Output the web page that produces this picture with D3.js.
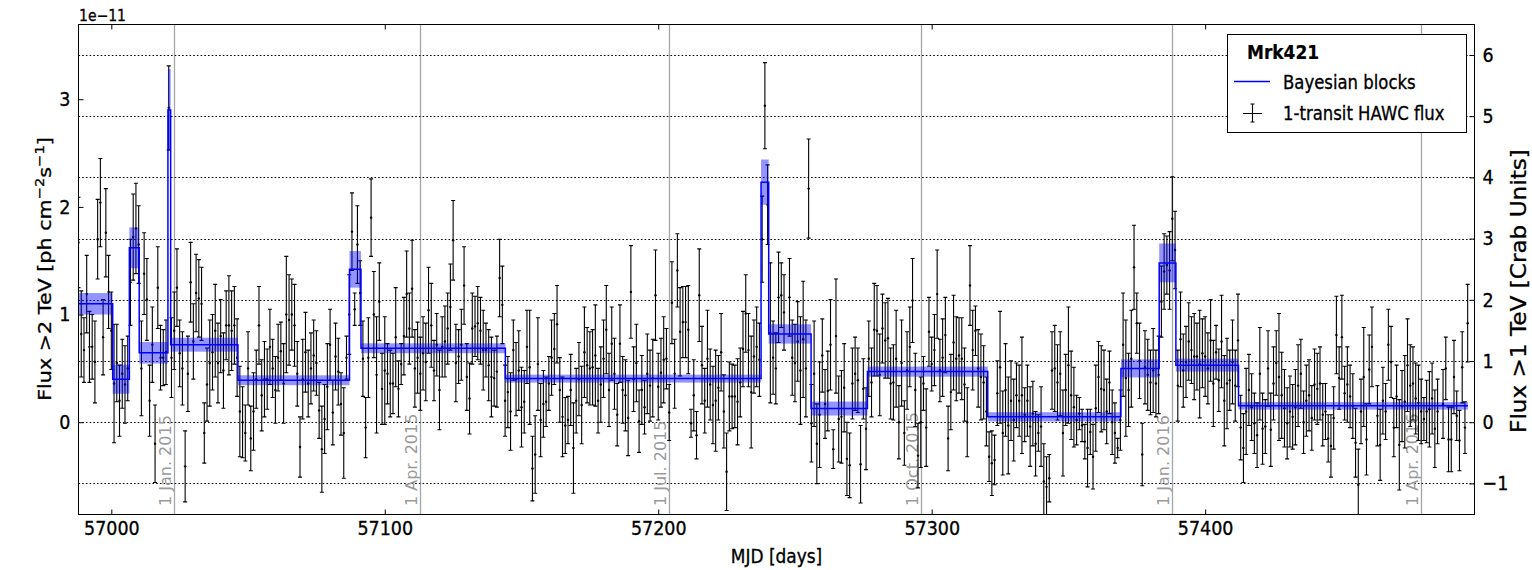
<!DOCTYPE html>
<html>
<head>
<meta charset="utf-8">
<script src="https://cdn.jsdelivr.net/npm/d3@7"></script>
<style>
  html, body { margin: 0; padding: 0; background: #fff; }
  svg { display: block; font-family: "DejaVu Sans", sans-serif; }
</style>
</head>
<body>
<svg id="chart" width="1532" height="570"></svg>
<script>
// Daily HAWC transits of Mrk421 (MJD), flux >2 TeV in units of 1e-11 ph cm^-2 s^-1
const mjd = [
  56988,56989,56990,56991,56992,56993,56994,56995,56996,56997,
  56998,56999,57000,57001,57002,57003,57004,57005,57006,57007,
  57008,57009,57010,57011,57012,57013,57014,57015,57016,57017,
  57018,57019,57020,57021,57022,57023,57024,57025,57026,57027,
  57028,57029,57030,57031,57032,57033,57034,57035,57036,57037,
  57038,57039,57040,57041,57042,57043,57044,57045,57046,57047,
  57048,57049,57050,57051,57052,57053,57054,57055,57056,57057,
  57058,57059,57060,57061,57062,57063,57064,57065,57066,57067,
  57068,57069,57070,57071,57072,57073,57074,57075,57076,57077,
  57078,57079,57080,57081,57082,57083,57084,57085,57086,57087,
  57088,57089,57090,57091,57092,57093,57094,57095,57096,57097,
  57098,57099,57100,57101,57102,57103,57104,57105,57106,57107,
  57108,57109,57110,57111,57112,57113,57114,57115,57116,57117,
  57118,57119,57120,57121,57122,57123,57124,57125,57126,57127,
  57128,57129,57130,57131,57132,57133,57134,57135,57136,57137,
  57138,57139,57140,57141,57142,57143,57144,57145,57146,57147,
  57148,57149,57150,57151,57152,57153,57154,57155,57156,57157,
  57158,57159,57160,57161,57162,57163,57164,57165,57166,57167,
  57168,57169,57170,57171,57172,57173,57174,57175,57176,57177,
  57178,57179,57180,57181,57182,57183,57184,57185,57186,57187,
  57188,57189,57190,57191,57192,57193,57194,57195,57196,57197,
  57198,57199,57200,57201,57202,57203,57204,57205,57206,57207,
  57208,57209,57210,57211,57212,57213,57214,57215,57216,57217,
  57218,57219,57220,57221,57222,57223,57224,57225,57226,57227,
  57228,57229,57230,57231,57232,57233,57234,57235,57236,57237,
  57238,57239,57240,57241,57242,57243,57244,57245,57246,57247,
  57248,57249,57250,57251,57252,57253,57254,57255,57256,57257,
  57258,57259,57260,57261,57262,57263,57264,57265,57266,57267,
  57268,57269,57270,57271,57272,57273,57274,57275,57276,57277,
  57278,57279,57280,57281,57282,57283,57284,57285,57286,57287,
  57288,57289,57290,57291,57292,57293,57294,57295,57296,57297,
  57298,57299,57300,57301,57302,57303,57304,57305,57306,57307,
  57308,57309,57310,57311,57312,57313,57314,57315,57316,57317,
  57318,57319,57320,57321,57322,57323,57324,57325,57326,57327,
  57328,57329,57330,57331,57332,57333,57334,57335,57336,57337,
  57338,57339,57340,57341,57342,57343,57344,57345,57346,57347,
  57348,57349,57350,57351,57352,57353,57354,57355,57356,57357,
  57358,57359,57360,57361,57362,57363,57364,57365,57366,57367,
  57368,57369,57370,57371,57372,57373,57374,57375,57376,57377,
  57378,57379,57380,57381,57382,57383,57384,57385,57386,57387,
  57388,57389,57390,57391,57392,57393,57394,57395,57396,57397,
  57398,57399,57400,57401,57402,57403,57404,57405,57406,57407,
  57408,57409,57410,57411,57412,57413,57414,57415,57416,57417,
  57418,57419,57420,57421,57422,57423,57424,57425,57426,57427,
  57428,57429,57430,57431,57432,57433,57434,57435,57436,57437,
  57438,57439,57440,57441,57442,57443,57444,57445,57446,57447,
  57448,57449,57450,57451,57452,57453,57454,57455,57456,57457,
  57458,57459,57460,57461,57462,57463,57464,57465,57466,57467,
  57468,57469,57470,57471,57472,57473,57474,57475,57476,57477,
  57478,57479,57480,57481,57482,57483,57484,57485,57486,57487,
  57488,57489,57490,57491,57492,57493,57494,57495,57496
];

const flux = [
  1.67,0.82,0.67,1.19,0.70,0.70,0.56,1.70,2.04,0.79,
  1.76,1.21,0.85,0.36,0.55,0.20,0.45,0.35,0.50,1.30,
  1.72,1.80,1.65,0.50,1.38,1.14,0.20,0.72,-0.20,1.25,
  0.60,0.60,0.65,2.92,0.60,0.85,1.25,0.64,0.50,-0.41,
  0.45,1.30,0.75,1.20,1.15,1.10,-0.10,0.35,0.55,0.65,
  0.85,0.55,0.80,0.48,0.90,0.90,0.85,0.90,0.60,0.10,
  0.00,-0.10,0.50,-0.15,0.10,0.40,0.90,0.25,0.40,0.40,
  0.70,0.50,0.30,0.60,0.66,0.36,1.00,0.95,1.00,0.90,
  0.45,-0.23,0.40,0.65,0.36,0.50,0.62,0.55,0.11,-0.25,
  0.03,0.33,0.72,0.09,0.61,0.47,0.17,-0.10,0.60,1.00,
  1.77,1.05,1.65,1.20,0.59,-0.05,0.60,1.90,1.00,0.44,
  1.12,0.31,0.48,0.45,0.36,0.36,0.79,0.31,0.54,0.80,
  1.19,0.87,1.24,0.50,0.60,0.45,0.64,0.56,1.04,0.90,
  0.48,0.72,0.30,0.70,0.75,0.87,1.07,1.69,0.55,0.61,
  0.72,1.27,0.42,0.22,0.87,0.89,0.92,0.85,0.67,0.67,
  0.53,0.42,0.41,0.47,1.34,1.09,0.20,0.28,0.10,0.67,
  0.40,0.48,0.14,0.19,0.70,0.51,-0.43,-0.30,0.54,0.02,
  0.17,0.19,0.36,0.60,0.68,0.91,0.30,0.05,-0.03,0.02,
  0.30,-0.24,0.20,0.40,0.16,0.65,0.53,0.50,0.51,0.62,
  0.20,0.35,0.59,0.86,0.30,0.73,0.45,0.07,0.73,0.30,
  0.25,0.04,1.21,0.40,0.55,0.01,0.30,0.14,0.45,0.34,
  0.41,1.18,0.33,0.46,0.58,0.59,0.09,1.11,0.45,1.41,
  0.84,0.93,0.93,0.86,-0.01,0.25,-0.12,1.18,0.53,0.20,
  0.59,0.35,0.16,0.20,0.32,0.65,0.10,-0.46,0.24,0.24,
  0.24,0.19,0.37,0.68,1.01,0.67,0.28,0.61,0.70,0.58,
  1.70,2.94,2.02,0.83,0.60,0.50,1.16,1.18,1.02,null,
  1.16,0.60,0.55,0.75,0.48,0.77,0.50,2.17,-0.01,0.45,
  -0.20,0.07,0.62,0.17,0.29,0.72,-0.25,0.80,0.03,0.05,
  0.32,-0.34,-0.40,0.36,0.45,0.39,-0.39,0.31,-0.06,0.59,
  0.37,0.86,0.85,0.44,0.87,0.76,0.78,0.36,0.37,0.59,
  0.00,0.55,-0.10,0.48,0.70,1.13,0.30,-0.31,0.00,0.36,
  -0.05,0.84,0.54,0.67,1.19,0.48,0.60,0.81,-0.15,0.28,
  0.74,0.59,0.62,0.59,0.35,0.00,1.27,0.67,0.85,0.50,
  0.42,0.37,0.10,-0.32,-0.38,-0.35,0.27,0.51,-0.10,0.30,
  -0.03,0.20,0.02,0.25,0.20,0.25,0.07,0.20,-0.04,0.08,
  -0.20,-0.10,-0.04,-0.55,-0.60,-0.52,0.48,0.50,0.37,0.45,
  -0.10,0.30,0.53,0.25,0.14,0.02,0.08,-0.03,-0.18,-0.24,
  -0.09,-0.32,0.13,0.42,0.31,0.30,0.10,0.37,0.00,-0.10,
  -0.24,0.02,0.72,0.41,0.30,0.59,1.44,0.92,0.57,-0.30,
  0.51,0.44,0.37,0.48,0.36,0.44,1.12,1.40,1.46,1.41,
  1.89,1.60,0.34,0.77,0.48,0.56,0.75,0.67,0.61,0.61,
  0.54,0.64,0.61,0.50,0.76,0.36,0.65,0.39,0.75,0.20,
  0.36,0.39,0.56,0.34,0.76,-0.05,-0.24,0.10,0.30,0.14,
  -0.01,-0.12,0.45,-0.06,-0.04,0.50,-0.07,0.36,0.55,0.42,
  0.25,0.13,-0.01,0.10,0.05,0.14,0.34,0.45,0.00,0.20,
  0.25,0.04,0.35,0.31,0.36,0.07,0.10,-0.15,-0.22,0.04,
  0.81,0.41,0.79,0.27,0.35,0.24,0.15,-0.19,-0.58,0.10,
  0.42,-0.16,0.49,0.70,null,0.06,-0.21,0.20,0.10,0.72,
  0.56,-0.05,0.24,-0.21,0.15,0.19,0.53,0.34,0.36,0.22,
  0.18,0.10,0.03,0.10,0.12,0.22,-0.06,0.10,null,0.17,
  0.50,-0.16,-0.16,0.42,0.06,-0.17,0.51,-0.05,0.92
];

const fluxErr = [
  0.42,0.40,0.30,0.36,0.33,0.30,0.38,0.37,0.41,0.35,
  0.41,0.34,0.36,0.55,0.36,0.33,0.32,0.36,0.30,0.40,
  0.40,0.42,0.36,0.44,0.38,0.38,0.33,0.35,0.36,0.38,
  0.30,0.26,0.30,0.39,0.37,0.36,0.36,0.31,0.34,0.33,
  0.35,0.37,0.35,0.36,0.36,0.34,0.28,0.34,0.40,0.35,
  0.43,0.37,0.34,0.35,0.32,0.46,0.37,0.36,0.36,0.42,
  0.33,0.26,0.34,0.30,0.36,0.27,0.36,0.33,0.35,0.28,
  0.35,0.27,0.31,0.31,0.27,0.37,0.54,0.42,0.33,0.38,
  0.30,0.28,0.37,0.37,0.31,0.33,0.33,0.30,0.26,0.40,
  0.32,0.40,0.33,0.30,0.31,0.31,0.29,0.42,0.20,0.37,
  0.36,0.15,0.36,0.30,0.35,0.28,0.37,0.36,0.40,0.54,
  0.36,0.33,0.50,0.28,0.31,0.28,0.46,0.26,0.19,0.36,
  0.40,0.33,0.45,0.36,0.33,0.34,0.34,0.36,0.40,0.39,
  0.28,0.29,0.37,0.28,0.33,0.33,0.40,0.37,0.36,0.25,
  0.33,0.36,0.31,0.33,0.33,0.28,0.34,0.31,0.37,0.25,
  0.33,0.37,0.26,0.33,0.36,0.36,0.33,0.33,0.36,0.28,
  0.34,0.37,0.37,0.29,0.34,0.53,0.30,0.36,0.43,0.34,
  0.31,0.23,0.25,0.35,0.33,0.36,0.30,0.37,0.26,0.22,
  0.33,0.42,0.30,0.34,0.36,0.42,0.35,0.34,0.35,0.47,
  0.30,0.35,0.36,0.41,0.34,0.34,0.33,0.29,0.36,0.31,
  0.33,0.35,0.43,0.30,0.36,0.29,0.32,0.25,0.37,0.33,
  0.36,0.42,0.31,0.32,0.40,0.28,0.26,0.38,0.32,0.34,
  0.41,0.33,0.33,0.41,0.13,0.33,0.22,0.43,0.36,0.30,
  0.45,0.33,0.36,0.47,0.30,0.36,0.34,0.36,0.32,0.30,
  0.29,0.40,0.32,0.35,0.36,0.34,0.52,0.34,0.37,0.34,
  0.40,0.40,0.37,0.65,0.34,0.33,0.42,0.30,0.35,null,
  0.36,0.35,0.36,0.37,0.50,0.54,0.45,0.46,0.36,0.49,
  0.37,0.49,0.34,0.32,0.37,0.42,0.18,0.53,0.40,0.43,
  0.41,0.34,0.30,0.33,0.34,0.30,0.36,0.28,0.38,0.35,
  0.32,0.43,0.42,0.38,0.32,0.35,0.37,0.33,0.35,0.45,
  0.34,0.40,0.30,0.36,0.37,0.39,0.34,0.30,0.42,0.25,
  0.36,0.32,0.25,0.33,0.41,0.29,0.36,0.35,0.30,0.35,
  0.44,0.39,0.35,0.38,0.34,0.32,0.37,0.37,0.23,0.36,
  0.40,0.34,0.32,0.23,0.30,0.23,0.30,0.52,0.39,0.43,
  0.45,0.37,0.38,0.30,0.33,0.54,0.25,0.33,0.37,0.30,
  0.30,0.17,0.37,0.35,0.28,0.22,0.36,0.40,0.35,0.39,
  0.40,0.33,0.54,0.41,0.37,0.23,0.15,0.15,0.16,0.36,
  0.21,0.30,0.40,0.33,0.40,0.37,0.30,0.29,0.30,0.28,
  0.09,0.28,0.48,0.54,0.34,0.45,0.39,0.28,0.35,0.29,
  0.34,0.33,0.30,0.39,0.31,0.36,0.33,0.35,0.27,0.36,
  0.39,0.36,0.33,0.44,0.34,0.33,0.36,0.31,0.40,0.31,
  0.50,0.32,0.37,0.33,0.38,0.40,0.25,0.29,0.43,0.42,
  0.42,0.28,0.39,0.33,0.43,0.30,0.32,0.40,0.33,0.31,
  0.28,0.30,0.43,0.33,0.25,0.35,0.34,0.34,0.30,0.59,
  0.40,0.36,0.33,0.33,0.30,0.35,0.38,0.32,0.29,0.33,
  0.33,0.30,0.33,0.33,0.34,0.29,0.26,0.22,0.29,0.29,
  0.36,0.29,0.39,0.25,0.35,0.29,0.30,0.32,0.33,0.30,
  0.46,0.33,0.32,0.37,null,0.28,0.33,0.31,0.26,0.33,
  0.33,0.27,0.29,0.42,0.33,0.43,0.43,0.38,0.34,0.33,
  0.35,0.30,0.20,0.29,0.35,0.33,0.36,0.30,null,0.32,
  0.29,0.30,0.30,0.34,0.23,0.28,0.33,0.24,0.36
];

// Bayesian blocks: edges (MJD), block flux and its uncertainty
const blockStart = [56988.0,57000.5,57006.6,57010.2,57020.7,57021.7,57046.3,57087.1,57091.3,57144.1,
                    57237.6,57240.4,57255.9,57276.5,57320.5,57369.2,57383.2,57389.3,57412.2];
const blockEnd   = [57000.5,57006.6,57010.2,57020.7,57021.7,57046.3,57087.1,57091.3,57144.1,57237.6,
                    57240.4,57255.9,57276.5,57320.5,57369.2,57383.2,57389.3,57412.2,57496.1];
const blockFlux  = [1.10,0.40,1.62,0.645,2.90,0.72,0.39,1.42,0.687,0.405,
                    2.23,0.82,0.127,0.47,0.05,0.50,1.48,0.53,0.152];
const blockErr   = [0.10,0.135,0.19,0.10,0.38,0.065,0.046,0.17,0.046,0.037,
                    0.21,0.09,0.065,0.047,0.043,0.084,0.18,0.06,0.035];

// Calendar markers
const markerMjd    = [57023, 57113, 57204, 57296, 57388, 57479];
const markerLabels = ["1 Jan. 2015", "1 Apr. 2015", "1 Jul. 2015", "1 Oct. 2015", "1 Jan. 2016", "1 Apr. 2016"];

// Axes
const xTicks    = [57000, 57100, 57200, 57300, 57400];
const yTicks    = [0, 1, 2, 3];
const crabTicks = [-1, 0, 1, 2, 3, 4, 5, 6];
const crabUnit  = 0.5685;   // 1 Crab (>1 TeV) expressed in 1e-11 ph cm^-2 s^-1 (>2 TeV)

const svg = d3.select("#chart");
const pL = 78.5, pR = 1474.5, pT = 24.5, pB = 514.5;
const SY = 1.13;            // glyphs are set slightly taller than wide
const INK = 0.3;            // extra stroke weight on black text

const x = d3.scaleLinear().domain([56988, 57498.5]).range([pL, pR]);
const y = d3.scaleLinear().domain([-0.857, 3.694]).range([pB, pT]);
const yCrab = d3.scaleLinear().domain([-0.857 / crabUnit, 3.694 / crabUnit]).range([pB, pT]);

svg.append("rect").attr("width", 1532).attr("height", 570).attr("fill", "#fff");

svg.append("clipPath").attr("id", "plotClip")
  .append("rect").attr("x", pL).attr("y", pT).attr("width", pR - pL).attr("height", pB - pT);

const plot = svg.append("g").attr("clip-path", "url(#plotClip)");

// calendar marker lines
plot.selectAll("line.marker").data(markerMjd).join("line")
  .attr("class", "marker")
  .attr("x1", d => Math.round(x(d)) + 0.5).attr("x2", d => Math.round(x(d)) + 0.5)
  .attr("y1", pT).attr("y2", pB)
  .attr("stroke", "#a6a6a6").attr("stroke-width", 1.3);

// dotted grid at Crab-unit ticks
plot.selectAll("line.grid").data(crabTicks).join("line")
  .attr("class", "grid")
  .attr("x1", pL).attr("x2", pR)
  .attr("y1", d => Math.round(yCrab(d)) + 0.5).attr("y2", d => Math.round(yCrab(d)) + 0.5)
  .attr("stroke", "#000").attr("stroke-width", 1.1).attr("stroke-dasharray", "1.6,2.1");

// calendar marker labels
plot.selectAll("text.markerLabel").data(markerMjd).join("text")
  .attr("class", "markerLabel")
  .attr("transform", d => `translate(${x(d) - 3},506) rotate(-90)`)
  .attr("fill", "#9a9a9a").attr("font-size", 16)
  .text((d, i) => markerLabels[i]);

// daily flux points with error bars
const points = mjd.map((m, i) => ({ m, f: flux[i], e: fluxErr[i] })).filter(d => d.f !== null);
const capW = 2;
plot.append("path")
  .attr("fill", "none").attr("stroke", "#000").attr("stroke-width", 1.1)
  .attr("d", points.map(d => {
    const px = x(d.m), y1 = y(d.f + d.e), y2 = y(d.f - d.e);
    return `M${px},${y1}V${y2}M${px - capW},${y1}H${px + capW}M${px - capW},${y2}H${px + capW}`;
  }).join(""));
plot.selectAll("circle.pt").data(points).join("circle")
  .attr("class", "pt")
  .attr("cx", d => x(d.m)).attr("cy", d => y(d.f)).attr("r", 1.2).attr("fill", "#000");

// Bayesian block uncertainty bands
const blocks = blockStart.map((s, i) => ({ s, e: blockEnd[i], f: blockFlux[i], err: blockErr[i] }));
plot.selectAll("rect.band").data(blocks).join("rect")
  .attr("class", "band")
  .attr("x", d => x(d.s)).attr("width", d => x(d.e) - x(d.s))
  .attr("y", d => y(d.f + d.err)).attr("height", d => y(d.f - d.err) - y(d.f + d.err))
  .attr("fill", "rgb(0,0,255)").attr("fill-opacity", 0.42);

// Bayesian block step line
const stepPts = blocks.flatMap(d => [[d.s, d.f], [d.e, d.f]]);
plot.append("path")
  .attr("fill", "none").attr("stroke", "#0000ff").attr("stroke-width", 1.5)
  .attr("d", d3.line().x(d => x(d[0])).y(d => y(d[1]))(stepPts));

// axes (ticks point inward); tick labels stretched vertically about their anchor
const tickFont = 17.5;
function styleAxis(g) {
  g.select(".domain").remove();
  g.selectAll(".tick line").attr("stroke", "#000").attr("stroke-width", 1);
  g.selectAll(".tick text").each(function () {
    const t = d3.select(this);
    const ty = +(t.attr("y") || 0);
    t.attr("y", ty / SY).attr("transform", `scale(1,${SY})`)
      .attr("font-size", tickFont).attr("font-family", "DejaVu Sans")
      .attr("fill", "#000").attr("stroke", "#000").attr("stroke-width", INK);
  });
}
svg.append("g").attr("transform", `translate(0,${pB})`)
  .call(d3.axisBottom(x).tickValues(xTicks).tickFormat(d3.format("d")).tickSize(-5).tickPadding(6))
  .call(styleAxis);
svg.append("g").attr("transform", `translate(0,${pT})`)
  .call(d3.axisTop(x).tickValues(xTicks).tickFormat("").tickSize(-5))
  .call(styleAxis);
svg.append("g").attr("transform", `translate(${pL},0)`)
  .call(d3.axisLeft(y).tickValues(yTicks).tickFormat(d3.format("d")).tickSize(-5).tickPadding(8))
  .call(styleAxis);
svg.append("g").attr("transform", `translate(${pR},0)`)
  .call(d3.axisRight(yCrab).tickValues(crabTicks).tickFormat(d3.format("d")).tickSize(-5).tickPadding(8))
  .call(styleAxis);

// frame
svg.append("rect")
  .attr("x", pL).attr("y", pT).attr("width", pR - pL).attr("height", pB - pT)
  .attr("fill", "none").attr("stroke", "#000").attr("stroke-width", 1);

// helper: black text at (px,py), stretched vertically, optional rotation
function label(px, py, size, rot) {
  return svg.append("text")
    .attr("transform", `translate(${px},${py}) scale(1,${SY})` + (rot ? ` rotate(${rot})` : ""))
    .attr("font-size", size).attr("fill", "#000")
    .attr("stroke", "#000").attr("stroke-width", INK);
}

// offset text
label(79, 20.7, 14).text("1e\u221211");

// axis labels
label((pL + pR) / 2, 562.5, 17).attr("text-anchor", "middle").text("MJD [days]");

const yl = label(51, 269, 18.3, -90).attr("text-anchor", "middle");
yl.append("tspan").text("Flux >2 TeV [ph cm");
yl.append("tspan").attr("dy", -7.5).attr("font-size", 13).text("\u22122");
yl.append("tspan").attr("dy", 7.5).text("s");
yl.append("tspan").attr("dy", -7.5).attr("font-size", 13).text("\u22121");
yl.append("tspan").attr("dy", 7.5).text("]");

label(1526, 291, 20.5, -90).attr("text-anchor", "middle").text("Flux >1 TeV [Crab Units]");

// legend
svg.append("rect").attr("x", 1227.5).attr("y", 34.5).attr("width", 239).attr("height", 98)
  .attr("fill", "#fff").attr("stroke", "#000").attr("stroke-width", 1);
label(1247, 59, 17).attr("font-weight", "bold").attr("stroke-width", 0.2).text("Mrk421");
svg.append("line").attr("x1", 1234).attr("x2", 1270).attr("y1", 81.5).attr("y2", 81.5)
  .attr("stroke", "#0000ff").attr("stroke-width", 1.5);
label(1283, 89, 16.5).text("Bayesian blocks");
svg.append("path").attr("fill", "none").attr("stroke", "#000").attr("stroke-width", 1.1)
  .attr("d", "M1252.5,104V122M1243,113.5H1262M1250.5,104H1254.5M1250.5,122H1254.5");
label(1283, 120, 16.5).text("1-transit HAWC flux");
</script>
</body>
</html>
